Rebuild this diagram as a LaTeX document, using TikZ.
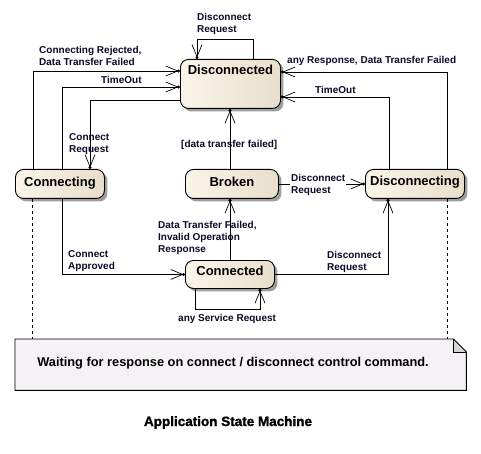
\documentclass[tikz,border=0pt]{standalone}
\usepackage{fontspec}
\setmainfont{Liberation Sans}
\newfontfamily\titlefont{Liberation Sans Bold}[FakeBold=1.6]
\usetikzlibrary{arrows.meta,shadows}
\definecolor{stL}{HTML}{FAF4EA}
\definecolor{stR}{HTML}{E9DECB}
\definecolor{noteFill}{HTML}{F5F2F5}
\definecolor{foldFill}{HTML}{D6D3D6}
\definecolor{lblC}{HTML}{0A0A28}
\tikzset{
  state/.style={draw=black, line width=0.9pt, rounded corners=8pt, inner sep=0pt,
    anchor=north west, left color=stL, right color=stR, align=center,
    drop shadow={shadow xshift=3pt, shadow yshift=-3pt, fill=black!38, opacity=1},
    font=\bfseries\fontsize{13}{15}\selectfont},
  lbl/.style={anchor=north west, inner sep=0pt, align=left, text=lblC,
    font=\bfseries\fontsize{10}{12}\selectfont},
  tr/.style={draw=black, line width=0.8pt,
    -{Straight Barb[length=12pt,width=10pt,line width=0.7pt,sep=-1.6pt]Circle[length=3pt,width=3pt]}},
  anchorline/.style={draw=black, line width=0.8pt, dash pattern=on 3pt off 3pt},
}
\begin{document}
\begin{tikzpicture}[x=1pt,y=-1pt]
\useasboundingbox (0,0) rectangle (481,454);
\fill[white] (0,0) rectangle (481,454);

% states
\node[state, minimum width=100pt, text height=15.3pt, text depth=33.7pt] (dis) at (180,59) {Disconnected};
\node[state, minimum width=89pt, text height=16.7pt, text depth=12.3pt] (conn) at (15,169) {Connecting};
\node[state, minimum width=93pt, text height=16.7pt, text depth=12.3pt] (broken) at (185,169) {Broken};
\node[state, minimum width=99pt, text height=16.2pt, text depth=12.8pt] (disc) at (365,169) {Disconnecting};
\node[state, minimum width=89pt, text height=15pt, text depth=13pt] (cd) at (185,260) {Connected};

% note
\node[inner sep=0pt, minimum width=451pt, minimum height=51pt, anchor=north west] (note) at (15,339) {};
\fill[noteFill] (note.north west) -- ([xshift=-13pt]note.north east) -- ([yshift=-13pt]note.north east) -- (note.south east) -- (note.south west) -- cycle;
\fill[foldFill] ([xshift=-13pt]note.north east) -- ([yshift=-13pt]note.north east) -- ([xshift=-13pt,yshift=-13pt]note.north east) -- cycle;
\draw[line width=0.9pt] (note.north west) -- ([xshift=-13pt]note.north east) -- ([yshift=-13pt]note.north east) -- (note.south east) -- (note.south west) -- cycle;
\draw[line width=0.7pt] ([xshift=-13pt]note.north east) -- ([xshift=-13pt,yshift=-13pt]note.north east) -- ([yshift=-13pt]note.north east);
\node[inner sep=0pt, anchor=base, font=\bfseries\fontsize{12.8}{15}\selectfont] (notetext) at (233,366) {Waiting for response on connect / disconnect control command.};

% transitions
\draw[tr] (33,0 |- conn.north) |- (dis.west |- 0,71);
\draw[tr] (62,0 |- conn.north) |- (dis.west |- 0,87);
\draw[tr] (dis.west |- 0,100) -| (90,0 |- conn.north);
\draw[tr] (253,0 |- dis.north) -- ++(0,-20) -| (197,0 |- dis.north);
\draw[tr] (447,0 |- disc.north) |- (dis.east |- 0,72);
\draw[tr] (389,0 |- disc.north) |- (dis.east |- 0,97);
\draw[tr] (230,0 |- broken.north) -- (230,0 |- dis.south);
\draw[tr] (broken.east) -- (disc.west);
\draw[tr] (230,0 |- cd.north) -- (230,0 |- broken.south);
\draw[tr] (62,0 |- conn.south) |- (cd.west);
\draw[tr] (cd.east) -| (388,0 |- disc.south);
\draw[tr] (195,0 |- cd.south) -- ++(0,20) -| (260,0 |- cd.south);

% dashed anchors to note
\draw[anchorline] (32,0 |- conn.south) -- (32,0 |- note.north);
\draw[anchorline] (447,0 |- disc.south) -- (447,0 |- note.north);

% labels
\node[lbl] (l1) at (197,13) {Disconnect\\Request};
\node[lbl] (l2) at (39,46) {Connecting Rejected,\\Data Transfer Failed};
\node[lbl] (l3) at (101,76.5) {TimeOut};
\node[lbl] (l4) at (69,133) {Connect\\Request};
\node[lbl] (l5) at (287,56.5) {any Response, Data Transfer Failed};
\node[lbl] (l6) at (315,86.5) {TimeOut};
\node[lbl] (l7) at (181,140.5) {[data transfer failed]};
\node[lbl, fill=white, inner sep=1pt] (l8) at (290,173) {Disconnect\\Request};
\node[lbl] (l9) at (158,221) {Data Transfer Failed,\\Invalid Operation\\Response};
\node[lbl] (l10) at (68,250.5) {Connect\\Approved};
\node[lbl] (l11) at (327,251) {Disconnect\\Request};
\node[lbl] (l12) at (178,314) {any Service Request};

% title
\node[inner sep=0pt, anchor=base, font=\titlefont\fontsize{13.5}{16}\selectfont] (title) at (228,426) {Application State Machine};
\end{tikzpicture}
\end{document}
